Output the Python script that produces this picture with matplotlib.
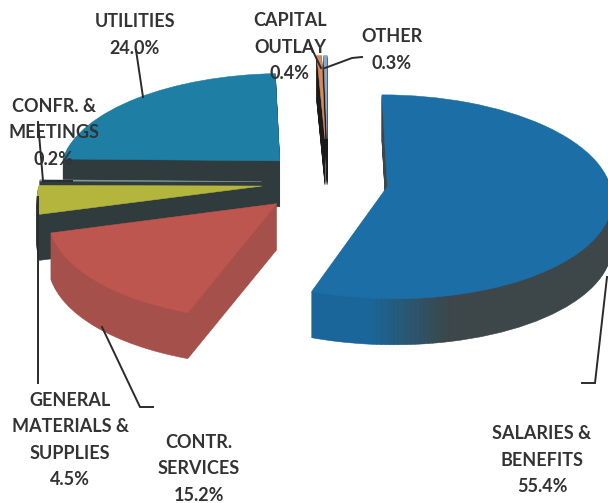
import matplotlib
matplotlib.use("Agg")
import matplotlib.pyplot as plt
import numpy as np
from matplotlib.patches import Wedge
from matplotlib.transforms import Affine2D, Transform

# budget shares, clockwise from 12 o'clock
names = ["SALARIES &\nBENEFITS", "CONTR.\nSERVICES", "GENERAL\nMATERIALS &\nSUPPLIES",
         "CONFR. &\nMEETINGS", "UTILITIES", "CAPITAL\nOUTLAY", "OTHER"]
values = [55.4, 15.2, 4.5, 0.2, 24.0, 0.4, 0.3]

explode = [0.27, 0.31, 0.30, 0.30, 0.31, 0.45, 0.45]
top_colors = ["#1c6ea6", "#bd564e", "#b3b53c", "#8a9a9a", "#1f7ea4", "#d98a5c", "#8aa6c8"]
wall_colors = ["#3d4648", "#a5504a", "#2f3b3d", "#2f3b3d", "#2f3b3d", "#1a1a1a", "#1a1a1a"]
layer_order = [5, 4, 3, 2, 1, 0, 0]  # back to front: slivers, utilities, confr, gen, contr, salaries
label_pos = [(542, 460), (199, 469), (70, 440), (54, 133), (135, 35), (290, 47), (392, 50)]

depth = 46


class Tilt(Transform):
    # pie disc seen at an angle, far side a bit smaller
    input_dims = 2
    output_dims = 2
    is_affine = False
    has_inverse = False

    def transform_non_affine(self, xy):
        xy = np.asarray(xy)
        f = 1 + 0.1 * xy[:, 1]
        return np.column_stack([328 + 222 * xy[:, 0] / f, 182 - 100 * xy[:, 1] / f])


fig, ax = plt.subplots(figsize=(6.08, 5.03), dpi=100)
fig.subplots_adjust(0, 0, 1, 1)

wedges, _ = ax.pie(values, explode=explode, colors=top_colors, startangle=90,
                   counterclock=False, radius=1)
ax.set_aspect("auto")
ax.set_xlim(0, 608)
ax.set_ylim(503, 0)
ax.axis("off")

tilt = Tilt()
blue = np.array(matplotlib.colors.to_rgb(top_colors[0]))
grey = np.array(matplotlib.colors.to_rgb(wall_colors[0]))

for i, w in enumerate(wedges):
    base = layer_order[i] * 10
    w.set_transform(tilt + ax.transData)
    w.set_zorder(base + 5)
    w.set_edgecolor(top_colors[i])
    w.set_linewidth(0.4)
    # stack of copies going down makes the side wall
    if i == 0:
        edges = np.concatenate([[w.theta1], np.arange(-96, -76, 1.0), [w.theta2]])
    else:
        edges = np.array([w.theta1, w.theta2])
    for dy in np.arange(depth, 0, -1.0):
        shift = tilt + Affine2D().translate(0, dy) + ax.transData
        for t1, t2 in zip(edges[:-1], edges[1:]):
            c = wall_colors[i]
            if i == 0:
                m = np.clip((t1 + 96) / 19, 0, 1)
                c = tuple(blue * (1 - m) * 0.92 + grey * m)
            ax.add_patch(Wedge(w.center, w.r, t1, t2, fc=c, ec=c, lw=0.4,
                               transform=shift, zorder=base + 1))

# leader lines
lines = [
    ([136, 143], [50, 97]),
    ([310, 321], [45, 68]),
    ([325, 352, 362], [68, 58, 57]),
    ([38, 43, 72], [122, 181, 181]),
    ([38, 38], [197, 383]),
    ([102, 140, 153], [327, 407, 407]),
    ([607, 595, 582], [277, 383, 383]),
]
for lx, ly in lines:
    ax.plot(lx, ly, color="#2b2b2b", lw=1.4, zorder=100, solid_joinstyle="miter")

for name, v, (x, y) in zip(names, values, label_pos):
    ax.text(x, y, f"{name}\n{v:.1f}%", ha="center", va="center", family="Lato",
            fontweight="bold", fontsize=13, color="#333333", linespacing=1.68, zorder=90)

plt.savefig("out.png", dpi=100)
